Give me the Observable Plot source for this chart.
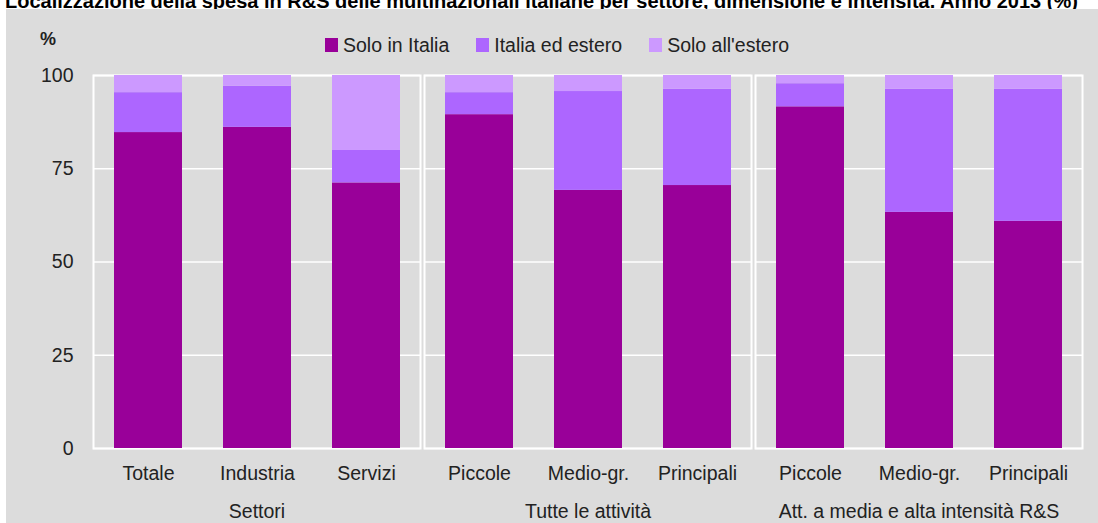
<!DOCTYPE html>
<html><head><meta charset="utf-8">
<script src="https://cdn.jsdelivr.net/npm/d3@7"></script>
<script src="https://cdn.jsdelivr.net/npm/@observablehq/plot@0.6"></script>
<style>
body{margin:0;background:#fff;width:1098px;height:523px;overflow:hidden;position:relative;font-family:"Liberation Sans",Arial,sans-serif;color:#222;}
#title{position:absolute;left:5px;top:-9px;font:bold 20px "Liberation Sans",Arial,sans-serif;line-height:20px;white-space:nowrap;color:#000;}
#panel{position:absolute;left:6px;top:9px;width:1092px;height:514px;background:#dcdcdc;}
#pct{position:absolute;left:40px;top:30px;font-weight:bold;font-size:18px;line-height:18px;color:#222;}
#legend{position:absolute;left:325px;top:35px;display:flex;font-size:19.5px;line-height:20px;}
.item{display:flex;align-items:center;margin-right:27px;}
.sw{width:13px;height:14px;margin-right:5px;}
#chart{position:absolute;left:0;top:56px;}
</style></head>
<body>
<div id="title">Localizzazione della spesa in R&amp;S delle multinazionali italiane per settore, dimensione e intensità. Anno 2013 (%)</div>
<div id="panel"></div>
<div id="pct">%</div>
<div id="legend"></div>
<div id="chart"></div>
<script>
const groups = ["Settori", "Tutte le attività", "Att. a media e alta intensità R&S"];
const barGroup = [0, 0, 0, 1, 1, 1, 2, 2, 2];
const categories = ["Totale", "Industria", "Servizi", "Piccole", "Medio-gr.", "Principali", "Piccole", "Medio-gr.", "Principali"];
const seriesNames = ["Solo in Italia", "Italia ed estero", "Solo all'estero"];
const seriesColors = ["#990099", "#ad66ff", "#cc99ff"];
const soloItalia   = [84.7, 86.1, 71.2, 89.5, 69.2, 70.5, 91.6, 63.3, 60.9];
const italiaEstero = [10.7, 11.0,  8.7,  5.9, 26.5, 25.8,  6.2, 33.0, 35.4];
const soloEstero   = [ 4.6,  2.9, 20.1,  4.6,  4.3,  3.7,  2.2,  3.7,  3.7];
const yTicks = [0, 25, 50, 75, 100];

const seriesValues = [soloItalia, italiaEstero, soloEstero];
const rows = [];
categories.forEach((c, i) => {
  const pos = i - barGroup.indexOf(barGroup[i]);
  seriesNames.forEach((s, k) => {
    rows.push({group: groups[barGroup[i]], pos, category: c, series: s, value: seriesValues[k][i]});
  });
});
const labelRows = rows.filter(d => d.series === seriesNames[0]);

const FONT = '"Liberation Sans",Arial,sans-serif';
const FS = 19.5;

const plot = Plot.plot({
  width: 1098, height: 467,
  marginTop: 19, marginBottom: 75, marginLeft: 93, marginRight: 15,
  style: {background: "transparent", fontFamily: FONT, fontSize: FS + "px", color: "#222"},
  fx: {domain: groups, paddingInner: 0.012, paddingOuter: 0, label: null},
  x: {domain: [0, 1, 2], paddingInner: 0.38, paddingOuter: 0.19, axis: null},
  y: {domain: [0, 100], label: null},
  color: {domain: seriesNames, range: seriesColors},
  marks: [
    Plot.gridY(yTicks, {stroke: "white", strokeOpacity: 1, strokeWidth: 1.5}),
    Plot.frame({stroke: "white", strokeWidth: 2}),
    Plot.barY(rows, {fx: "group", x: "pos", y: "value", fill: "series"}),
    Plot.axisY(yTicks, {tickSize: 0, tickPadding: 20, label: null, fontSize: FS}),
    Plot.axisFx({anchor: "bottom", tickSize: 0, tickPadding: 56, label: null, fontSize: FS}),
    Plot.text(labelRows, {fx: "group", x: "pos", text: "category", frameAnchor: "bottom", lineAnchor: "middle", dy: 25, fontSize: FS, fill: "#222"})
  ]
});
document.getElementById("chart").appendChild(plot);

const legend = document.getElementById("legend");
seriesNames.forEach((s, k) => {
  const item = document.createElement("div");
  item.className = "item";
  const sw = document.createElement("span");
  sw.className = "sw";
  sw.style.background = seriesColors[k];
  const t = document.createElement("span");
  t.textContent = s;
  item.appendChild(sw); item.appendChild(t);
  legend.appendChild(item);
});
</script>
</body></html>
